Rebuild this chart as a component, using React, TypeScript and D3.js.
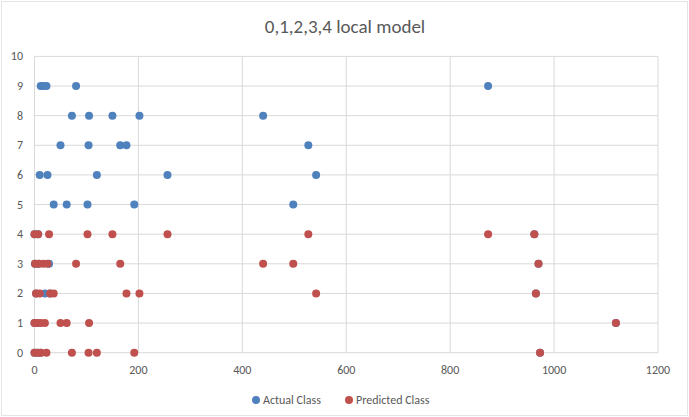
import * as d3 from "d3";

// one entry per sample: its x value, the true class and the class the model predicted
const sampleX = [
  873, 440, 527, 542, 498, 80, 72, 105, 150, 202, 50, 104, 165, 177, 120, 256, 62, 102, 192,
  962, 970, 965, 1119, 973,
  0, 7, 28, 1, 8, 17, 25, 3, 10, 30, 37, 0, 5, 12, 20, 0, 6, 12, 23,
];
const actualClass = [
  9, 8, 7, 6, 5, 9, 8, 8, 8, 8, 7, 7, 7, 7, 6, 6, 5, 5, 5,
  4, 3, 2, 1, 0,
  4, 4, 3, 3, 3, 9, 6, 2, 6, 2, 5, 1, 1, 9, 2, 0, 0, 0, 9,
];
const predictedClass = [
  4, 3, 4, 2, 3, 3, 0, 1, 4, 2, 1, 0, 3, 2, 0, 4, 1, 4, 0,
  4, 3, 2, 1, 0,
  4, 4, 4, 3, 3, 3, 3, 2, 2, 2, 2, 1, 1, 1, 1, 0, 0, 0, 0,
];

const xTicks = [0, 200, 400, 600, 800, 1000, 1200];
const yTicks = [0, 1, 2, 3, 4, 5, 6, 7, 8, 9, 10];

const seriesNames = ["Actual Class", "Predicted Class"];
const seriesColors = ["#4F81BD", "#C0504D"];

const W = 689;
const H = 417;
const font = "Carlito, Calibri, 'Open Sans', sans-serif";

export default function App() {
  const x = d3.scaleLinear().domain([0, 1200]).range([34.5, 658]);
  const y = d3.scaleLinear().domain([0, 10]).range([352.7, 56.4]);
  const series = [actualClass, predictedClass];

  return (
    <svg
      width={W}
      height={H}
      style={{ position: "absolute", left: 0, top: 0, background: "#fff" }}
      fontFamily={font}
    >
      <rect x={1.5} y={1.5} width={W - 3} height={H - 3} fill="#fff" stroke="#e4e4e4" />

      <text x={345} y={33} textAnchor="middle" fontSize={19} fill="#595959">
        0,1,2,3,4 local model
      </text>

      {/* grid */}
      {yTicks.map((t) => (
        <line key={"gy" + t} x1={x(0)} x2={x(1200)} y1={y(t)} y2={y(t)} stroke="#d9d9d9" />
      ))}
      {xTicks.map((t) => (
        <line key={"gx" + t} x1={x(t)} x2={x(t)} y1={y(0)} y2={y(10)} stroke="#d9d9d9" />
      ))}

      {/* tick labels */}
      {yTicks.map((t) => (
        <text key={"ly" + t} x={23} y={y(t) + 4} textAnchor="end" fontSize={12} fill="#595959">
          {t}
        </text>
      ))}
      {xTicks.map((t) => (
        <text key={"lx" + t} x={x(t)} y={374} textAnchor="middle" fontSize={12} fill="#595959">
          {t}
        </text>
      ))}

      {/* markers: actual first, predicted on top */}
      {series.map((vals, si) => (
        <g key={"s" + si} fill={seriesColors[si]}>
          {sampleX.map((v, i) => (
            <circle key={i} cx={x(v)} cy={y(vals[i])} r={4} />
          ))}
        </g>
      ))}

      {/* legend */}
      <g fontSize={12} fill="#595959">
        <circle cx={256} cy={400} r={4} fill={seriesColors[0]} />
        <text x={263} y={404}>{seriesNames[0]}</text>
        <circle cx={349} cy={400} r={4} fill={seriesColors[1]} />
        <text x={356} y={404}>{seriesNames[1]}</text>
      </g>
    </svg>
  );
}
